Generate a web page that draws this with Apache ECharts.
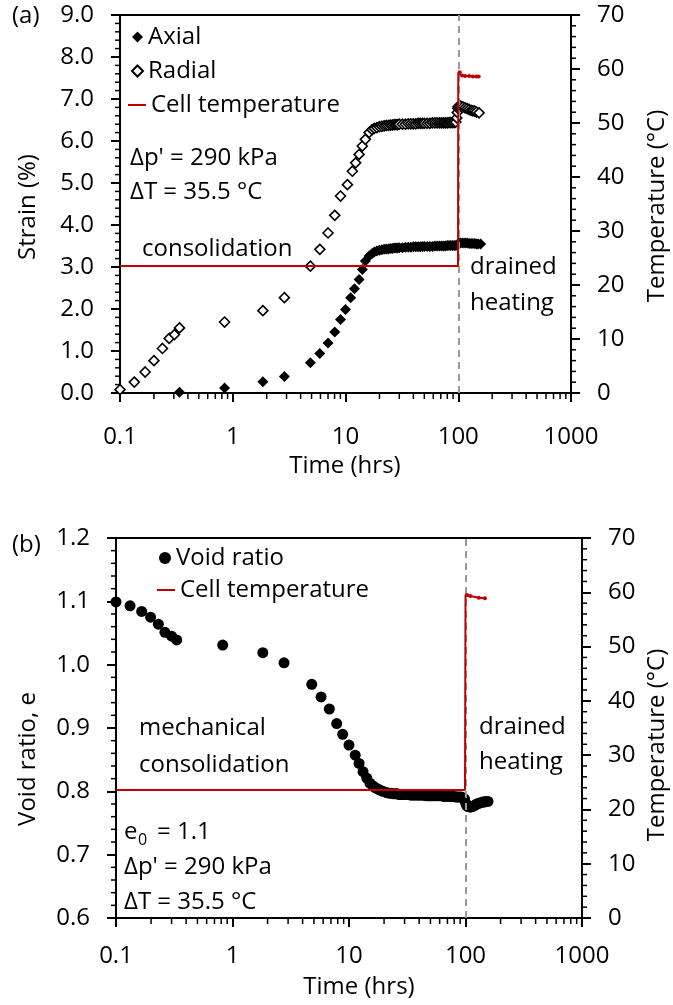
<!DOCTYPE html>
<html>
<head>
<meta charset="utf-8">
<script src="https://cdn.jsdelivr.net/npm/echarts@6/dist/echarts.min.js"></script>
<style>html,body{margin:0;padding:0;background:#fff}#chart{width:673px;height:1005px}</style>
</head>
<body>
<div id="chart"></div>
<script>
// (a) strain vs time
const axialTime = [0.337, 0.846, 1.85, 2.87, 4.88, 5.92, 7.0, 8.03, 9.03, 10.0, 11.1, 12.0, 13.2, 14.1, 15.0, 16.2, 17.2, 18, 19, 20, 21, 22, 23, 24, 25, 26, 27, 28, 29, 30, 32, 34, 36, 38, 40, 42, 44, 46, 48, 50, 53, 56, 59, 62, 65, 68, 71, 74, 77, 80, 83, 86, 89, 92, 95, 98, 100, 102, 105, 110, 115, 120, 125, 130, 135, 140, 145, 150, 158];
const axialStrain = [0.02, 0.12, 0.27, 0.39, 0.72, 0.94, 1.19, 1.45, 1.75, 1.99, 2.27, 2.48, 2.70, 2.94, 3.14, 3.26, 3.32, 3.36, 3.38, 3.40, 3.41, 3.42, 3.43, 3.43, 3.44, 3.44, 3.45, 3.45, 3.45, 3.46, 3.46, 3.47, 3.47, 3.47, 3.48, 3.48, 3.48, 3.48, 3.49, 3.49, 3.49, 3.49, 3.49, 3.50, 3.50, 3.50, 3.50, 3.50, 3.50, 3.51, 3.51, 3.51, 3.51, 3.51, 3.51, 3.52, 3.56, 3.57, 3.57, 3.57, 3.57, 3.57, 3.56, 3.56, 3.56, 3.56, 3.55, 3.55, 3.55];

const radialTime = [0.1, 0.134, 0.167, 0.2, 0.238, 0.273, 0.304, 0.337, 0.846, 1.85, 2.87, 4.88, 5.92, 7.0, 8.03, 9.03, 10.4, 11.5, 12.3, 13.2, 14.1, 15.0, 16.2, 17.2, 18, 19, 20, 21, 22, 23, 24, 25, 26, 27, 28, 29, 30, 32, 34, 36, 38, 40, 42, 44, 46, 48, 50, 53, 56, 59, 62, 65, 68, 71, 74, 77, 80, 83, 86, 89, 92, 95, 97, 98, 99, 100, 102, 105, 110, 115, 120, 125, 130, 135, 140, 145, 153];
const radialStrain = [0.08, 0.26, 0.50, 0.77, 1.06, 1.30, 1.39, 1.55, 1.69, 1.96, 2.27, 3.02, 3.42, 3.81, 4.23, 4.69, 4.96, 5.28, 5.48, 5.68, 5.88, 6.04, 6.20, 6.27, 6.30, 6.32, 6.34, 6.35, 6.36, 6.37, 6.37, 6.38, 6.38, 6.39, 6.39, 6.39, 6.40, 6.40, 6.40, 6.41, 6.41, 6.41, 6.41, 6.42, 6.42, 6.42, 6.42, 6.42, 6.42, 6.43, 6.43, 6.43, 6.43, 6.43, 6.43, 6.43, 6.43, 6.44, 6.44, 6.44, 6.44, 6.45, 6.55, 6.68, 6.78, 6.82, 6.83, 6.83, 6.81, 6.79, 6.77, 6.75, 6.73, 6.72, 6.71, 6.69, 6.67];

const tempTimeA = [0.1, 99.5, 100, 103, 108, 115, 125, 135, 145, 152];
const tempA = [23.5, 23.5, 59.3, 59.4, 58.8, 58.7, 58.7, 58.6, 58.6, 58.6];

// (b) void ratio vs time
const voidTime = [0.1, 0.132, 0.166, 0.198, 0.231, 0.263, 0.3, 0.332, 0.824, 1.82, 2.77, 4.79, 5.76, 6.78, 7.84, 8.82, 10.0, 11.3, 12.2, 13.2, 14.2, 15.1, 16.0, 16.7, 17.5, 18.4, 19.5, 21, 22, 23, 24, 25, 26, 27, 28, 29, 30, 32, 34, 36, 38, 40, 42, 44, 46, 48, 50, 53, 56, 59, 62, 65, 68, 71, 74, 77, 80, 83, 86, 89, 92, 95, 98, 100, 102, 105, 110, 115, 120, 125, 130, 135, 140, 145, 150, 156];
const voidRatio = [1.099, 1.093, 1.084, 1.075, 1.064, 1.051, 1.045, 1.039, 1.031, 1.019, 1.003, 0.969, 0.949, 0.930, 0.907, 0.890, 0.873, 0.857, 0.844, 0.831, 0.821, 0.813, 0.809, 0.806, 0.804, 0.802, 0.800, 0.798, 0.797, 0.797, 0.796, 0.796, 0.796, 0.795, 0.795, 0.795, 0.795, 0.795, 0.794, 0.794, 0.794, 0.794, 0.794, 0.794, 0.793, 0.793, 0.793, 0.793, 0.793, 0.793, 0.793, 0.792, 0.792, 0.792, 0.792, 0.792, 0.792, 0.791, 0.791, 0.791, 0.791, 0.790, 0.788, 0.782, 0.778, 0.776, 0.775, 0.776, 0.778, 0.780, 0.781, 0.782, 0.783, 0.783, 0.784, 0.784];

const tempTimeB = [0.1, 99, 100, 103, 110, 130, 147];
const tempB = [23.6, 23.6, 59.5, 59.5, 59.3, 59.0, 58.9];

// tick labels and minor tick values
const xTicks = ['0.1', '1', '10', '100', '1000'];
const xMinor = [0.2, 0.3, 0.4, 0.5, 0.6, 0.7, 0.8, 0.9, 2, 3, 4, 5, 6, 7, 8, 9,
    20, 30, 40, 50, 60, 70, 80, 90, 200, 300, 400, 500, 600, 700, 800, 900];
const strainMajor = [0, 1, 2, 3, 4, 5, 6, 7, 8, 9];
const voidMajor = [0.6, 0.7, 0.8, 0.9, 1.0, 1.1, 1.2];
const tempMajor = [0, 10, 20, 30, 40, 50, 60, 70];

const zip = (xs, ys) => xs.map((x, i) => [x, ys[i]]);
// minor ticks: 5 steps between neighbouring major ticks
const splitMinor = major => major.slice(1).flatMap((m, i) =>
    [1, 2, 3, 4].map(k => major[i] + (m - major[i]) * k / 5));

const FONT = '"Open Sans"';
const FS = 24;
const RED = '#c00000';

let myChart = echarts.init(document.querySelector('#chart'));

function timeAxis(gridIndex, margin) {
    return {
        type: 'log', logBase: 10, min: 0.1, max: 1000, gridIndex: gridIndex, position: 'bottom',
        axisLine: {show: true, onZero: false, lineStyle: {color: '#000', width: 2}},
        axisTick: {show: true, length: 9, lineStyle: {color: '#000', width: 2}},
        axisLabel: {color: '#000', fontFamily: FONT, fontSize: FS, margin: margin,
            formatter: v => xTicks.find(t => Math.abs(+t - v) < 1e-6) || ''},
        splitLine: {show: false}
    };
}

// plain line along the top edge of each plot, closing the frame
function topEdge(gridIndex) {
    return {
        type: 'log', min: 0.1, max: 1000, gridIndex: gridIndex, position: 'top',
        axisLine: {show: true, onZero: false, lineStyle: {color: '#000', width: 2}},
        axisTick: {show: false}, axisLabel: {show: false}, splitLine: {show: false}
    };
}

function valAxis(gridIndex, min, max, interval, pos, digits) {
    return {
        type: 'value', gridIndex: gridIndex, position: pos, min: min, max: max, interval: interval,
        axisLine: {show: true, onZero: false, lineStyle: {color: '#000', width: 2}},
        axisTick: {show: true, length: 9, lineStyle: {color: '#000', width: 2}},
        axisLabel: {color: '#000', fontFamily: FONT, fontSize: FS, margin: 26,
            formatter: v => v.toFixed(digits)},
        splitLine: {show: false}
    };
}

function txt(s, x, y, size, align) {
    return {
        type: 'text', x: x, y: y, z: 100,
        style: {text: s, fill: '#000', fontFamily: FONT, fontSize: size || FS, align: align || 'left', verticalAlign: 'middle'}
    };
}

function vtxt(s, x, y) {
    return {
        type: 'text', x: x, y: y, rotation: Math.PI / 2, z: 100,
        style: {text: s, fill: '#000', fontFamily: FONT, fontSize: FS, align: 'center', verticalAlign: 'middle'}
    };
}

const notes = [
    txt('(a)', 12, 16),
    txt("\u0394p' = 290 kPa", 130, 158),
    txt('\u0394T = 35.5 \u00b0C', 130, 192),
    txt('consolidation', 142, 249),
    txt('drained', 470, 267),
    txt('heating', 470, 303),
    txt('Time (hrs)', 345, 466, FS, 'center'),
    vtxt('Strain (%)', 28, 207),
    vtxt('Temperature (\u00b0C)', 657, 206),

    txt('(b)', 12, 545),
    txt('mechanical', 139, 728),
    txt('consolidation', 139, 765),
    txt('drained', 479, 727),
    txt('heating', 479, 762),
    txt('e', 124, 832),
    txt('0', 138, 840, 16),
    txt('= 1.1', 157, 832),
    txt("\u0394p' = 290 kPa", 124, 867),
    txt('\u0394T = 35.5 \u00b0C', 124, 902),
    txt('Time (hrs)', 359, 987, FS, 'center'),
    vtxt('Void ratio, e', 28, 759),
    vtxt('Temperature (\u00b0C)', 657, 745)
];

const dashed100 = {
    silent: true, symbol: 'none', label: {show: false},
    lineStyle: {color: '#999', type: [7, 5], width: 2},
    data: [{xAxis: 100}]
};

const legendText = {fontFamily: FONT, fontSize: FS, color: '#000'};

myChart.setOption({
    animation: false,
    grid: [
        {left: 120, right: 102, top: 15, bottom: 612},
        {left: 116, right: 91, top: 538, bottom: 87}
    ],
    xAxis: [timeAxis(0, 32), timeAxis(1, 26), topEdge(0), topEdge(1)],
    yAxis: [
        valAxis(0, 0, 9, 1, 'left', 1),
        valAxis(0, 0, 70, 10, 'right', 0),
        valAxis(1, 0.6, 1.2, 0.1, 'left', 1),
        valAxis(1, 0, 70, 10, 'right', 0)
    ],
    legend: [
        {orient: 'vertical', left: 131, top: 25, padding: 0, itemWidth: 11, itemHeight: 11, itemGap: 10,
            textStyle: legendText, data: ['Axial', 'Radial']},
        {orient: 'vertical', left: 128, top: 93, padding: 0, itemWidth: 18, itemHeight: 2, icon: 'rect',
            textStyle: legendText, data: ['Cell temperature']},
        {orient: 'vertical', left: 159, top: 546, padding: 0, itemWidth: 12, itemHeight: 12, icon: 'circle',
            textStyle: legendText, data: ['Void ratio']},
        {orient: 'vertical', left: 157, top: 578, padding: 0, itemWidth: 18, itemHeight: 2, icon: 'rect',
            textStyle: legendText, data: ['Cell temperature ']}
    ],
    graphic: notes,
    series: [
        {
            name: 'Radial', type: 'scatter', xAxisIndex: 0, yAxisIndex: 0,
            symbol: 'diamond', symbolSize: 10,
            itemStyle: {color: '#fff', borderColor: '#000', borderWidth: 1.6, opacity: 1},
            data: zip(radialTime, radialStrain)
        },
        {
            name: 'Axial', type: 'scatter', xAxisIndex: 0, yAxisIndex: 0,
            symbol: 'diamond', symbolSize: 11,
            itemStyle: {color: '#000', opacity: 1},
            data: zip(axialTime, axialStrain)
        },
        {
            name: 'Cell temperature', type: 'line', xAxisIndex: 0, yAxisIndex: 1,
            symbol: 'circle', symbolSize: v => (v[0] > 100 ? 4 : 0), z: 5,
            lineStyle: {color: RED, width: 2}, itemStyle: {color: RED},
            data: zip(tempTimeA, tempA),
            markLine: dashed100
        },
        {
            name: 'Void ratio', type: 'scatter', xAxisIndex: 1, yAxisIndex: 2,
            symbol: 'circle', symbolSize: 11,
            itemStyle: {color: '#000', opacity: 1},
            data: zip(voidTime, voidRatio)
        },
        {
            name: 'Cell temperature ', type: 'line', xAxisIndex: 1, yAxisIndex: 3,
            symbol: 'circle', symbolSize: v => (v[0] > 100 ? 4 : 0), z: 5,
            lineStyle: {color: RED, width: 2}, itemStyle: {color: RED},
            data: zip(tempTimeB, tempB),
            markLine: dashed100
        }
    ]
});

// minor tick marks placed through the axes' own scales
const minorEls = [];
function addMinor(xi, yi, side, values, other, len) {
    const toPx = val => myChart.convertToPixel({xAxisIndex: xi, yAxisIndex: yi}, val);
    const base = toPx(side === 'bottom' ? [0.1, other] : [side === 'right' ? 1000 : 0.1, other]);
    values.forEach(v => {
        const p = toPx(side === 'bottom' ? [v, other] : [other, v]);
        let shape;
        if (side === 'bottom') shape = {x: p[0] - 0.75, y: base[1], width: 1.5, height: len};
        else if (side === 'left') shape = {x: base[0] - len, y: p[1] - 0.75, width: len, height: 1.5};
        else shape = {x: base[0], y: p[1] - 0.75, width: len, height: 1.5};
        minorEls.push({type: 'rect', shape: shape, style: {fill: '#000'}, silent: true, z: 50});
    });
}
addMinor(0, 0, 'bottom', xMinor, 0, 6);
addMinor(0, 0, 'left', splitMinor(strainMajor), 0, 5);
addMinor(0, 1, 'right', splitMinor(tempMajor), 0, 5);
addMinor(1, 2, 'bottom', xMinor, 0.6, 6);
addMinor(1, 2, 'left', splitMinor(voidMajor), 0.6, 5);
addMinor(1, 3, 'right', splitMinor(tempMajor), 0, 5);

myChart.setOption({graphic: notes.concat(minorEls)});
</script>
</body>
</html>
